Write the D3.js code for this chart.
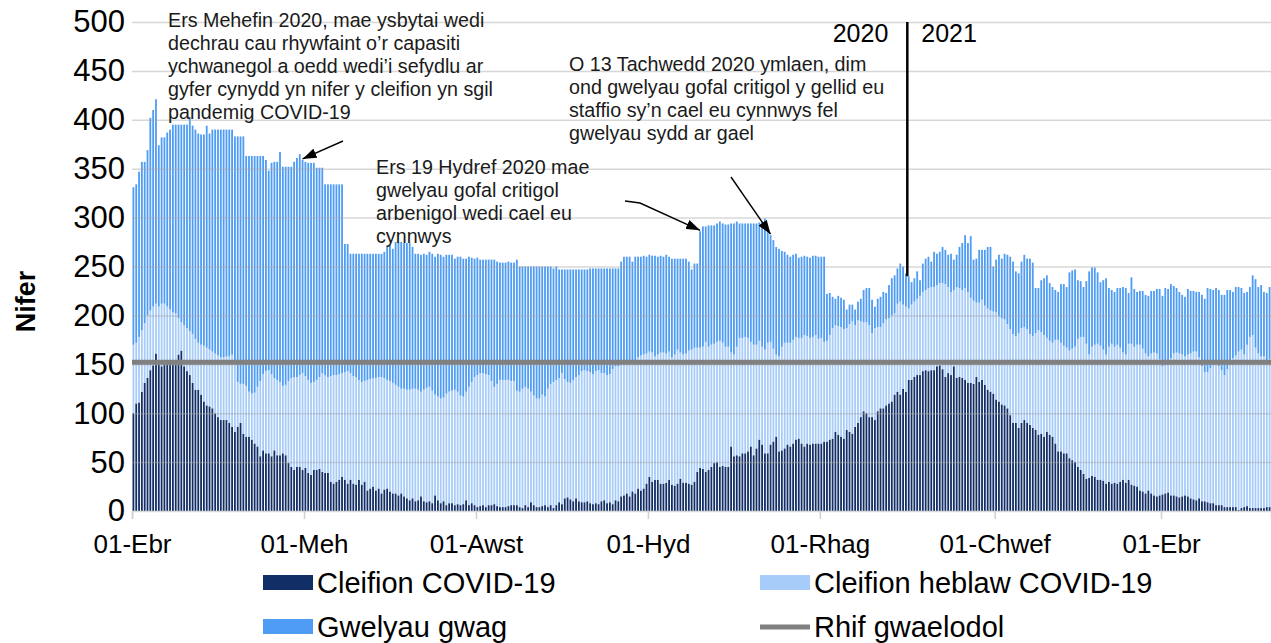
<!DOCTYPE html>
<html>
<head>
<meta charset="utf-8">
<script src="https://cdn.jsdelivr.net/npm/d3@7"></script>
<style>
  body { margin: 0; background: #fff; }
  text { font-family: "Liberation Sans", Arial, sans-serif; }
</style>
</head>
<body>
<svg id="chart" width="1271" height="643"></svg>
<script>
// daily values from 01-Apr-2020, one per day
const startDate = "2020-04-01";

// patients with COVID-19 in critical care beds
const covid = [
  100,110,111,122,131,136,144,149,161,151, 148,151,151,151,152,154,160,164,148,143,
  139,131,124,124,119,112,108,107,105,100, 96,93,93,93,90,86,81,86,90,79,
  76,76,73,69,66,56,62,59,59,56, 62,57,57,59,57,49,45,42,45,45,
  42,44,39,37,42,42,43,40,
  39,39,30,28,30,32,35,32,28,32, 28,27,32,27,30,21,23,25,21,23,
  18,22,23,20,18,18,16,18,15,13, 11,13,10,11,15,10,9,10,8,16,
  11,8,10,6,8,8,6,7,6,7, 11,6,8,6,4,5,6,4,6,6,
  7,5,4,4,4,5,6,6,
  6,4,3,6,4,9,6,4,4,5, 6,4,6,3,6,9,7,13,14,12,
  10,13,10,9,9,10,8,7,8,7, 10,11,8,9,7,11,10,15,16,18,
  15,20,18,23,21,23,28,35,30,32, 32,28,28,29,32,27,26,28,33,29,
  29,28,27,30,40,44,43,
  40,42,45,49,50,45,46,45,45,66, 56,57,56,59,59,61,66,57,64,73,
  68,59,59,68,71,76,61,62,64,68, 66,69,73,74,69,66,69,68,69,69,
  69,69,71,71,73,74,81,78,76,74, 83,81,79,86,90,96,102,100,96,96,
  93,102,105,105,108,110,112,119,
  122,119,125,122,134,134,137,139,139,143, 144,143,144,144,148,149,145,137,141,139,
  148,136,137,136,134,131,131,130,137,132, 134,129,124,122,120,114,112,109,108,105,
  98,90,90,85,90,93,90,88,85,83, 78,79,76,81,78,76,69,61,61,59,
  59,54,52,50,45,42,38,
  33,34,36,35,32,32,31,28,30,28, 29,28,30,32,29,32,27,26,25,21,
  20,18,21,18,16,15,16,17,18,19, 16,16,15,14,15,16,15,13,12,11,
  13,10,10,9,8,8,6,6,6,4, 4,4,4,4,1,3,4,5,3,3,
  3,3,3,3,4,4
];

// all patients (COVID-19 + other) in critical care beds
const occupied = [
  170,172,178,185,192,200,205,209,212,209, 212,212,209,206,203,202,197,193,190,187,
  184,181,176,172,170,169,167,165,163,161, 159,157,157,158,158,160,152,132,130,130,
  128,122,120,121,127,133,140,143,144,140, 136,134,132,128,129,133,136,137,137,139,
  141,138,134,131,132,134,137,141,
  139,137,138,139,139,140,141,142,143,141, 138,137,134,132,133,134,135,136,136,137,
  137,136,134,133,131,129,127,125,125,124, 124,125,125,124,122,124,126,127,123,119,
  117,115,116,120,122,123,124,122,118,117, 122,127,132,137,139,141,141,140,139,133,
  127,130,134,134,134,134,133,133,
  123,122,125,127,125,122,118,115,115,119, 117,125,130,132,134,136,141,135,132,131,
  134,137,139,143,144,143,142,140,143,144, 141,141,139,140,145,148,148,150,151,152,
  153,153,154,157,159,160,161,163,162,158, 160,162,162,161,163,157,160,165,162,160,
  161,164,165,167,167,167,168,
  173,168,170,171,173,174,172,168,168,162, 160,168,177,177,178,177,173,170,170,174,
  168,165,172,173,166,160,158,168,172,172, 172,175,178,177,177,180,179,177,178,180,
  176,177,173,174,180,187,190,189,188,186, 187,191,194,190,195,194,193,193,190,182,
  187,188,188,192,196,197,200,202,
  212,214,211,209,207,211,214,217,220,224, 226,228,229,229,231,233,233,232,229,224,
  226,229,228,226,228,224,218,215,213,213, 216,210,207,205,204,203,199,197,196,191,
  186,181,179,182,187,188,186,181,179,182, 185,183,180,177,174,172,175,175,172,169,
  167,164,166,168,176,178,178,
  171,160,168,170,171,169,165,160,168,171, 168,170,167,162,160,171,171,168,170,170,
  166,161,158,161,162,161,155,148,149,149, 156,161,162,161,160,158,160,161,163,163,
  157,148,142,142,146,149,150,148,144,139, 145,151,156,159,163,165,160,170,178,180,
  167,161,158,158,152,155
];

// critical care beds available (occupied + empty)
const beds = [
  331,334,347,357,357,369,402,410,421,374, 382,382,387,390,395,395,395,395,395,395,
  403,394,390,386,385,385,394,386,390,390, 390,390,390,390,390,390,383,383,383,383,
  363,363,363,363,363,363,363,359,348,356, 357,357,367,352,352,352,352,357,361,365,
  359,357,356,356,356,351,351,351,
  334,334,334,334,334,334,334,273,273,263, 263,263,263,263,263,263,263,263,263,263,
  263,265,270,272,268,275,275,275,274,274, 274,270,263,263,262,263,262,265,263,260,
  263,262,260,262,262,262,258,260,260,258, 258,260,259,258,259,257,257,257,257,257,
  257,255,254,254,254,255,254,254,
  257,250,250,250,250,250,250,250,250,250, 250,250,250,248,250,247,247,247,247,247,
  247,247,247,247,247,247,248,248,248,248, 248,248,248,248,248,248,248,255,260,260,
  260,255,260,260,260,261,260,262,261,261, 260,261,260,262,260,258,258,258,258,258,
  258,255,247,253,253,286,291,
  291,292,292,292,294,296,294,293,293,294, 294,296,294,294,294,294,294,294,294,295,
  296,299,286,282,277,270,268,266,265,262, 260,262,263,259,260,261,260,259,261,261,
  260,260,260,222,223,219,217,220,218,216, 206,211,211,206,214,217,226,228,228,216,
  209,217,219,224,223,231,238,241,
  248,253,250,243,240,234,238,245,236,253, 258,260,255,265,263,265,270,267,262,263,
  257,262,270,274,282,274,281,257,258,267, 267,267,270,270,250,257,262,258,263,262,
  260,255,245,243,255,262,258,258,254,228, 228,236,238,241,233,229,226,224,232,232,
  229,244,246,247,236,235,229,
  235,245,249,249,244,234,236,238,228,226, 224,228,228,229,228,223,239,227,224,225,
  225,221,220,225,225,227,227,220,228,227, 232,230,228,224,221,219,227,225,225,224,
  224,221,217,228,227,226,228,226,221,221, 226,226,224,229,229,228,223,224,229,241,
  237,229,231,224,223,229
];

const baselineBeds = 152;

const tickDates  = ["2020-04-01","2020-06-01","2020-08-01","2020-10-01","2020-12-01","2021-02-01","2021-04-01"];
const tickLabels = ["01-Ebr","01-Meh","01-Awst","01-Hyd","01-Rhag","01-Chwef","01-Ebr"];
const yTicks = [0,50,100,150,200,250,300,350,400,450,500];

const seriesKeys   = ["covid","nonCovid","empty"];
const seriesNames  = ["Cleifion COVID-19","Cleifion heblaw COVID-19","Gwelyau gwag"];
const seriesColors = ["#112e66","#a8ccf9","#4f9cf4"];
const baselineName = "Rhif gwaelodol";

const yearSplit = "2021-01-01";
const yearLabels = ["2020","2021"];

const noteJune = [
  "Ers Mehefin 2020, mae ysbytai wedi",
  "dechrau cau rhywfaint o’r capasiti",
  "ychwanegol a oedd wedi’i sefydlu ar",
  "gyfer cynydd yn nifer y cleifion yn sgil",
  "pandemig COVID-19"
];
const noteOct = [
  "Ers 19 Hydref 2020 mae",
  "gwelyau gofal critigol",
  "arbenigol wedi cael eu",
  "cynnwys"
];
const noteNov = [
  "O 13 Tachwedd 2020 ymlaen, dim",
  "ond gwelyau gofal critigol y gellid eu",
  "staffio sy’n cael eu cynnwys fel",
  "gwelyau sydd ar gael"
];

// ---- layout
const W = 1271, H = 643;
const M = { left: 132, right: 0, top: 22, bottom: 132 };
const plotR = W - M.right, plotB = H - M.bottom;

const parse = d3.utcParse("%Y-%m-%d");
const start = parse(startDate);
const n = covid.length;

const x = d3.scaleUtc()
  .domain([start, d3.utcDay.offset(start, n)])
  .range([M.left, plotR]);
const y = d3.scaleLinear().domain([0, 500]).range([plotB, M.top]);

const step = (plotR - M.left) / n;
const bw = step * 0.64;

const rows = covid.map((c, i) => ({
  date: d3.utcDay.offset(start, i),
  covid: c,
  nonCovid: Math.max(0, occupied[i] - c),
  empty: Math.max(0, beds[i] - occupied[i])
}));

const svg = d3.select("#chart");

// bars
const layers = d3.stack().keys(seriesKeys)(rows);
svg.append("g")
  .selectAll("g")
  .data(layers)
  .join("g")
    .attr("fill", (d, i) => seriesColors[i])
  .selectAll("rect")
  .data(d => d)
  .join("rect")
    .attr("x", d => x(d.data.date) + (step - bw) / 2)
    .attr("width", bw)
    .attr("y", d => y(d[1]))
    .attr("height", d => Math.max(0, y(d[0]) - y(d[1])));

// gridlines (over the bars, light)
svg.append("g")
  .attr("transform", `translate(${M.left},0)`)
  .call(d3.axisLeft(y).tickValues(yTicks.filter(v => v > 0)).tickSize(-(plotR - M.left)).tickFormat(""))
  .call(g => g.select(".domain").remove())
  .call(g => g.selectAll("line").attr("stroke", "#a6a6a6").attr("stroke-opacity", 0.45).attr("stroke-width", 1.5));

// baseline number of beds
svg.append("line")
  .attr("x1", M.left).attr("x2", plotR)
  .attr("y1", y(baselineBeds)).attr("y2", y(baselineBeds))
  .attr("stroke", "#808080").attr("stroke-width", 5);

// y labels
svg.append("g")
  .attr("transform", `translate(${M.left},0)`)
  .call(d3.axisLeft(y).tickValues(yTicks).tickSize(0).tickPadding(7))
  .call(g => g.select(".domain").remove())
  .call(g => g.selectAll("text")
    .attr("font-size", 31).attr("fill", "#000")
    .style("font-family", '"Liberation Sans", Arial, sans-serif'));

svg.append("text")
  .attr("transform", `translate(35,${(M.top + plotB) / 2 + 35}) rotate(-90)`)
  .attr("text-anchor", "middle")
  .attr("font-size", 27).attr("font-weight", "bold")
  .text("Nifer");

// x axis
svg.append("g")
  .attr("transform", `translate(0,${plotB})`)
  .call(d3.axisBottom(x)
    .tickValues(tickDates.map(parse))
    .tickFormat((d, i) => tickLabels[i])
    .tickSize(8))
  .call(g => g.select(".domain").attr("stroke", "#d9d9d9").attr("stroke-width", 1.5))
  .call(g => g.selectAll(".tick line").attr("stroke", "#d0d0d0").attr("stroke-width", 1.5))
  .call(g => g.selectAll("text")
    .attr("y", 42).attr("dy", 0)
    .attr("font-size", 26).attr("fill", "#000")
    .style("font-family", '"Liberation Sans", Arial, sans-serif'));

// year split
const splitDate = parse(yearSplit);
const splitIdx = d3.utcDay.count(start, splitDate);
const xs = x(splitDate);
svg.append("line")
  .attr("x1", xs).attr("x2", xs)
  .attr("y1", y(500)).attr("y2", y(beds[splitIdx]))
  .attr("stroke", "#000").attr("stroke-width", 2.5);
svg.append("text").attr("x", xs - 19).attr("y", 42)
  .attr("text-anchor", "end").attr("font-size", 25).text(yearLabels[0]);
svg.append("text").attr("x", xs + 14).attr("y", 42)
  .attr("font-size", 25).text(yearLabels[1]);

// annotations
svg.append("defs").append("marker")
  .attr("id", "arrow")
  .attr("viewBox", "0 0 14 10")
  .attr("refX", 14).attr("refY", 5)
  .attr("markerWidth", 14).attr("markerHeight", 10)
  .attr("markerUnits", "userSpaceOnUse")
  .attr("orient", "auto")
  .append("path").attr("d", "M0,0L14,5L0,10z").attr("fill", "#000");

function note(lines, x0, y0) {
  svg.append("text")
    .attr("font-size", 19.7).attr("fill", "#1a1a1a")
    .selectAll("tspan")
    .data(lines)
    .join("tspan")
      .attr("x", x0)
      .attr("y", (d, i) => y0 + i * 23)
      .text(d => d);
}
note(noteJune, 168, 27);
note(noteOct, 376, 174);
note(noteNov, 569, 71);

function tip(dayStr) {
  const dt = parse(dayStr);
  const i = d3.utcDay.count(start, dt);
  return [x(dt) + step / 2, y(beds[i]) - 1];
}
const line = d3.line();
const arrows = [
  [[343, 141], tip("2020-05-31")],
  [[625, 201], [640, 203], tip("2020-10-19")],
  [[731, 177], tip("2020-11-13")]
];
svg.append("g")
  .selectAll("path")
  .data(arrows)
  .join("path")
    .attr("d", line)
    .attr("fill", "none")
    .attr("stroke", "#000")
    .attr("stroke-width", 1.4)
    .attr("marker-end", "url(#arrow)");

// legend
const legendItems = [
  { name: seriesNames[0], color: seriesColors[0], col: 0, row: 0 },
  { name: seriesNames[1], color: seriesColors[1], col: 1, row: 0 },
  { name: seriesNames[2], color: seriesColors[2], col: 0, row: 1 },
  { name: baselineName, color: "#808080", col: 1, row: 1, line: true }
];
const lg = svg.append("g")
  .selectAll("g")
  .data(legendItems)
  .join("g")
    .attr("transform", d => `translate(${d.col ? 760 : 263},${d.row ? 627 : 583})`);
lg.filter(d => !d.line).append("rect")
  .attr("x", 0).attr("y", -8).attr("width", 50).attr("height", 15)
  .attr("fill", d => d.color);
lg.filter(d => d.line).append("line")
  .attr("x1", 0).attr("x2", 50).attr("y1", 0).attr("y2", 0)
  .attr("stroke", d => d.color).attr("stroke-width", 5);
lg.append("text")
  .attr("x", 54).attr("y", 0).attr("dy", "0.36em")
  .attr("font-size", 29).attr("fill", "#000")
  .text(d => d.name);
</script>
</body>
</html>
